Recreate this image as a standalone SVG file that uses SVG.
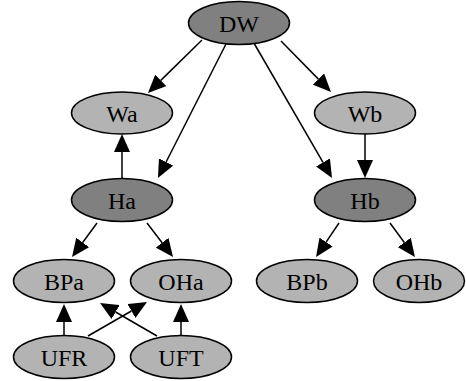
<svg xmlns="http://www.w3.org/2000/svg" width="466" height="381" viewBox="0 0 466 381">
<style>
.n ellipse{stroke:#000;stroke-width:1.5}
.l ellipse{fill:#b3b3b3}
.d ellipse{fill:#808080}
.n text{font-family:"Liberation Serif","Times New Roman",serif;font-size:24px;text-anchor:middle;fill:#000}
#edges line{stroke:#000;stroke-width:1.5;marker-end:url(#ah)}
</style>
<defs>
<marker id="ah" markerUnits="userSpaceOnUse" viewBox="0 0 18 16" refX="0" refY="8" markerWidth="18" markerHeight="16" orient="auto">
<path d="M0,0 L18,8 L0,16 z" fill="#000"/>
</marker>
</defs>
<rect width="466" height="381" fill="#fff"/>
<g id="edges">
<line x1="202" y1="40" x2="160.8" y2="80.4"/>
<line x1="226" y1="44" x2="166.1" y2="162"/>
<line x1="122" y1="179" x2="122" y2="152"/>
<line x1="281" y1="41" x2="318.4" y2="79.1"/>
<line x1="254.5" y1="44" x2="323" y2="162.4"/>
<line x1="365" y1="134" x2="365" y2="160"/>
<line x1="339" y1="223" x2="326.1" y2="242.1"/>
<line x1="390" y1="223" x2="404.3" y2="242.5"/>
<line x1="97" y1="223" x2="82.7" y2="242.5"/>
<line x1="147" y1="223" x2="162.1" y2="242.7"/>
<line x1="64" y1="336" x2="64" y2="322"/>
<line x1="181" y1="336" x2="181" y2="322"/>
<line x1="88" y1="336" x2="131.4" y2="311"/>
<line x1="157" y1="336" x2="115.6" y2="312"/>
</g>
<g id="DW" class="n d"><ellipse cx="239" cy="23" rx="50.5" ry="21.5"/><text x="239" y="31.5">DW</text></g>
<g id="Wa" class="n l"><ellipse cx="122" cy="113" rx="50.5" ry="21"/><text x="122" y="121.5">Wa</text></g>
<g id="Wb" class="n l"><ellipse cx="365" cy="113" rx="50.5" ry="21"/><text x="365" y="121.5">Wb</text></g>
<g id="Ha" class="n d"><ellipse cx="122" cy="200" rx="50.5" ry="21.5"/><text x="122" y="208.5">Ha</text></g>
<g id="Hb" class="n d"><ellipse cx="365" cy="200" rx="50.5" ry="21.5"/><text x="365" y="208.5">Hb</text></g>
<g id="BPa" class="n l"><ellipse cx="64" cy="281" rx="50.5" ry="21.5"/><text x="64" y="289.5">BPa</text></g>
<g id="OHa" class="n l"><ellipse cx="181" cy="281" rx="50.5" ry="21.5"/><text x="181" y="289.5">OHa</text></g>
<g id="BPb" class="n l"><ellipse cx="307" cy="281" rx="50.5" ry="21.5"/><text x="307" y="289.5">BPb</text></g>
<g id="OHb" class="n l"><ellipse cx="419" cy="281" rx="45.5" ry="21.5"/><text x="419" y="289.5">OHb</text></g>
<g id="UFR" class="n l"><ellipse cx="64" cy="357" rx="50.5" ry="21.5"/><text x="64" y="365.5">UFR</text></g>
<g id="UFT" class="n l"><ellipse cx="181" cy="357" rx="50.5" ry="21.5"/><text x="181" y="365.5">UFT</text></g>
</svg>
